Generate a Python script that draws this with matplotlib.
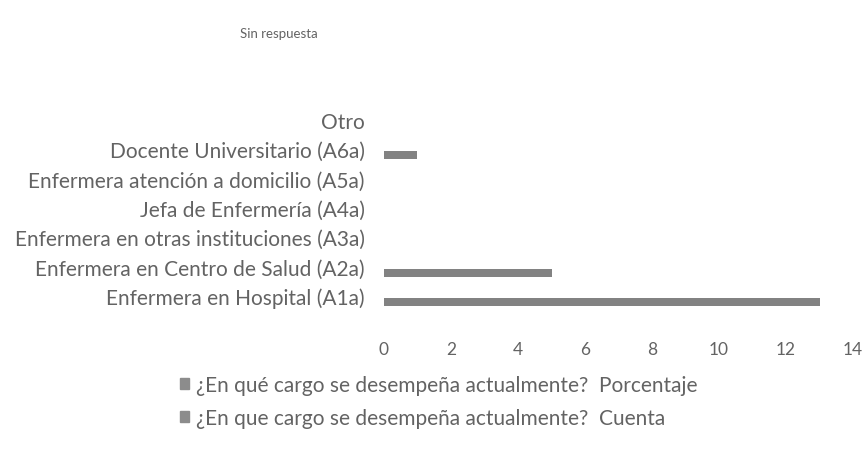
import matplotlib
matplotlib.use("Agg")
import matplotlib.pyplot as plt
from matplotlib.patches import Patch

plt.rcParams['font.family'] = ['Lato', 'DejaVu Sans']

# Cargos (de abajo hacia arriba, como en el gráfico de barras horizontal)
categorias = [
    "Enfermera en Hospital (A1a)",
    "Enfermera en Centro de Salud (A2a)",
    "Enfermera en otras instituciones (A3a)",
    "Jefa de Enfermería (A4a)",
    "Enfermera atención a domicilio (A5a)",
    "Docente Universitario (A6a)",
    "Otro",
]
cuenta = [13, 5, 0, 0, 0, 1, 0]
porcentaje = [0, 0, 0, 0, 0, 0, 0]
ticks_x = [0, 2, 4, 6, 8, 10, 12, 14]

serie_pct = "¿En qué cargo se desempeña actualmente?  Porcentaje"
serie_cta = "¿En que cargo se desempeña actualmente?  Cuenta"

texto = "#636363"
gris_barra = "#828282"

fig = plt.figure(figsize=(8.64, 4.6), dpi=100)
ax = fig.add_axes([0.4444, 0.322, 0.543, 0.448])

y = list(range(len(categorias)))
alto = 0.27
ax.barh([v - 0.2 for v in y], cuenta, height=alto, color=gris_barra)
ax.barh([v + 0.07 for v in y], porcentaje, height=alto, color="#9a9a9a")

ax.set_xlim(0, 14)
ax.set_ylim(-0.5, len(categorias) - 0.5)
ax.set_xticks(ticks_x)
ax.set_yticks(y)
ax.set_yticklabels(categorias)
ax.tick_params(axis='y', length=0, pad=14, labelsize=15, labelcolor=texto)
ax.tick_params(axis='x', length=0, pad=22, labelsize=12.5, labelcolor=texto)
for s in ax.spines.values():
    s.set_visible(False)

fig.text(0.323, 0.925, "Sin respuesta", fontsize=9.5, color=texto,
         ha='center', va='center')

handles = [Patch(color="#8c8c8c"), Patch(color="#8c8c8c")]
fig.legend(handles, [serie_pct, serie_cta], loc='upper left',
           bbox_to_anchor=(0.208, 0.182), frameon=False, fontsize=15,
           labelcolor=texto, handlelength=0.45, handleheight=0.45,
           handletextpad=0.35, labelspacing=0.62, borderpad=0, borderaxespad=0)

fig.savefig("out.png", dpi=100, facecolor="white")
